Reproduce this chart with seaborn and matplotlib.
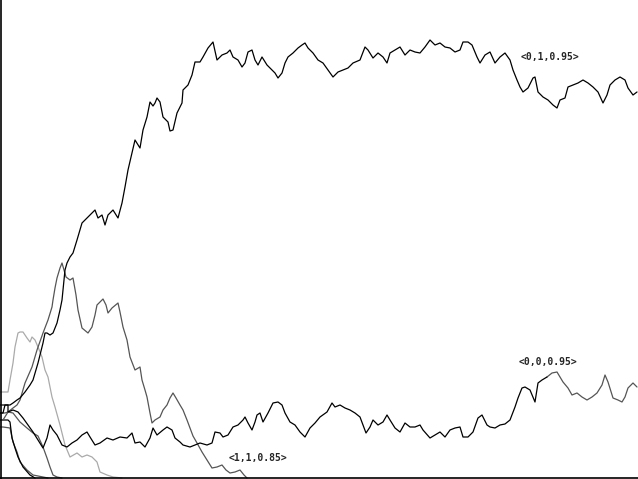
import numpy as np
import pandas as pd
import matplotlib
matplotlib.use('Agg')
from matplotlib import pyplot as plt
import seaborn as sns

# walk <0,1,0.95> (top black)
x_top = [0, 3, 5, 7, 10, 13, 17, 20, 25, 30, 33, 38, 43, 45, 47, 50, 53, 57, 60, 62, 63, 65, 67, 70, 73, 77, 82, 87, 92, 95,
         98, 102, 105, 108, 113, 118, 122, 125, 128, 132, 135, 140, 143, 147, 150, 153, 155, 157, 160, 163, 168, 170, 173,
         177, 182, 183, 188, 192, 195, 200, 203, 208, 213, 217, 222, 227, 230, 233, 238, 242, 245, 248, 252, 255, 258, 262,
         267, 272, 275, 278, 282, 285, 288, 293, 298, 302, 305, 308, 313, 318, 323, 328, 333, 338, 343, 348, 353, 360, 365,
         368, 373, 378, 383, 387, 390, 395, 400, 405, 410, 415, 420, 425, 430, 435, 440, 445, 450, 455, 460, 463, 468, 472,
         477, 480, 485, 490, 495, 500, 505, 510, 513, 517, 520, 523, 528, 533, 535, 538, 543, 548, 553, 557, 560, 565, 568,
         573, 578, 583, 588, 593, 598, 603, 607, 610, 615, 620, 625, 628, 633, 637]
y_top = [413, 413, 405, 405, 405, 403, 400, 398, 392, 385, 380, 363, 343, 333, 333, 335, 333, 323, 310, 300, 290, 270, 263,
         257, 253, 240, 223, 218, 213, 210, 218, 215, 225, 215, 210, 218, 203, 187, 170, 153, 140, 148, 130, 117, 102, 106,
         103, 98, 102, 117, 122, 131, 130, 113, 103, 90, 85, 75, 62, 62, 57, 48, 42, 60, 55, 53, 50, 57, 60, 67, 63, 52, 50,
         60, 65, 57, 65, 70, 73, 78, 73, 63, 57, 53, 48, 45, 43, 48, 53, 60, 63, 70, 77, 72, 70, 68, 63, 60, 47, 50, 58, 53,
         57, 63, 53, 50, 47, 55, 50, 52, 53, 47, 40, 45, 43, 47, 48, 52, 50, 42, 42, 45, 57, 63, 55, 52, 63, 57,
         53, 60, 70, 80, 87, 92, 88, 78, 77, 92, 97, 100, 105, 108, 100, 98, 87, 85, 83, 80, 83, 87, 92, 103, 95, 85, 80, 77,
         80, 88, 95, 92]

# walk <0,0,0.95> (bottom, black then grey)
x_low = [0, 3, 8, 8, 13, 18, 23, 28, 33, 38, 43, 47, 50, 53, 57, 62, 67, 72, 77, 82, 87, 90, 95, 100, 107,
         113, 120, 127, 132, 135, 140, 145, 150, 153, 157, 163, 167, 172, 175, 180, 183, 190, 195, 200, 207, 212, 215, 220,
         223, 228, 233, 238, 243, 245, 248, 252, 255, 257, 260, 263, 268, 273, 278, 282, 285, 290, 295, 300, 305, 310, 315,
         320, 327, 332, 335, 340, 345, 350, 355, 360, 363, 366, 370, 373, 378, 383, 387, 390, 395, 400, 405, 410, 415, 420,
         423, 430, 435, 440, 445, 450, 455, 460, 463, 468, 473, 478, 482, 487, 490, 495, 500, 505, 510, 515, 518, 522, 525,
         530, 535, 538, 542, 547]
y_low = [405, 405, 405, 412, 410, 412, 418, 425, 432, 440, 448, 438, 425, 430, 435, 445, 447, 443, 440, 435, 432, 437, 445,
         443, 438,
         440, 437, 438, 433, 443, 442, 447, 438, 428, 435, 430, 427, 430, 438, 442, 445, 447,
         445, 443, 445, 443, 432, 433, 437, 435, 427, 425, 420, 417, 423, 430, 422, 415, 413, 422, 413, 403, 402, 405, 413,
         422, 425, 432, 437, 428, 423, 417, 412, 403, 407, 405, 408, 410, 413, 417, 425, 433, 427, 420, 425, 422, 415, 420,
         428, 432, 423, 427, 427, 425, 430, 438, 435, 432, 437, 430, 428, 427, 437, 437, 432, 418, 415, 425, 427, 428, 425,
         424, 420, 407, 398, 388, 387, 390, 402, 383, 380, 377]
x_low_end = [547, 552, 557, 560, 563, 568, 572, 577, 582, 587, 592, 597, 602, 605, 608, 613, 618, 622, 625, 628, 633, 637]
y_low_end = [377, 373, 372, 377, 382, 388, 395, 393, 397, 400, 397, 393, 385, 375, 382, 398, 400, 402, 397, 388, 383, 387]

# walk <1,1,0.85> (dark grey)
x_mid = [0, 3, 8, 13, 17, 20, 25, 32, 37, 43, 48, 52, 53, 55, 57, 60, 62, 64, 66, 70, 73, 76, 78, 82, 88, 92, 95, 97, 103,
         106, 108, 112, 118, 120, 123, 127, 130, 135, 140, 142, 145, 147, 150, 152, 155, 160, 163, 167, 170, 173, 176, 180,
         183, 187, 190, 193, 197, 202, 207, 212, 217, 222, 226, 230, 235, 240, 244, 247]
y_mid = [420, 420, 412, 408, 405, 400, 383, 367, 350, 333, 320, 307, 300, 288, 278, 268, 263, 270, 277, 280, 278, 295, 310,
         328, 333, 327, 315, 305, 299, 305, 313, 308, 303, 312, 327, 340, 357, 370, 367, 380, 390, 397, 413, 423, 420, 417,
         410, 405, 398, 393, 398, 405, 410, 420, 428, 436, 443, 452, 460, 468, 467, 465, 470, 473, 472, 470, 475, 478]

# light grey walk
x_pale = [0, 3, 8, 10, 13, 15, 18, 20, 23, 27, 30, 32, 35, 38, 42, 45, 48, 52, 55, 60, 65, 70, 77, 82, 87, 92, 97, 100,
          107, 113, 122]
y_pale = [392, 392, 392, 380, 363, 347, 333, 332, 332, 338, 342, 337, 340, 347, 357, 370, 377, 397, 407, 425, 445, 457,
          453, 457, 455, 457, 462, 472, 475, 477, 478]

# short walks absorbed early
x_a = [0, 3, 8, 10, 12, 15, 18, 23, 30, 35]
y_a = [420, 420, 420, 422, 438, 448, 457, 467, 475, 478]
x_b = [0, 3, 10, 13, 17, 20, 27, 33, 38, 43, 48]
y_b = [427, 427, 428, 442, 452, 462, 470, 475, 476, 477, 478]
x_c = [0, 5, 8, 13, 20, 27, 33, 38, 43, 47, 50, 53, 57, 62]
y_c = [413, 413, 412, 413, 422, 428, 433, 436, 447, 458, 467, 475, 477, 478]

labels = ['<0,1,0.95>', '<0,0,0.95>', '<1,1,0.85>']

sns.set_style('white')
fig = plt.figure(figsize=(6.38, 4.79), dpi=100)
ax = fig.add_axes([0, 0, 1, 1])

walks = [(x_pale, y_pale, '#aaaaaa'), (x_b, y_b, '#555555'), (x_c, y_c, '#555555'), (x_a, y_a, 'black'),
         (x_mid, y_mid, '#555555'), (x_low_end, y_low_end, '#555555'), (x_low, y_low, 'black'), (x_top, y_top, 'black')]
for xs, ys, col in walks:
    d = pd.DataFrame({'step': xs, 'value': ys})
    sns.lineplot(data=d, x='step', y='value', color=col, lw=0.9, sort=False, estimator=None, ax=ax)

ax.set_xlim(0, 638)
ax.set_ylim(479, 0)
ax.set_xticks([])
ax.set_yticks([])
ax.set_xlabel('')
ax.set_ylabel('')
for s in ['top', 'right']:
    ax.spines[s].set_visible(False)
ax.spines['left'].set_position(('data', 0.7))
ax.spines['bottom'].set_position(('data', 478))
ax.spines['left'].set_color('black')
ax.spines['bottom'].set_color('black')
ax.spines['left'].set_linewidth(1.2)
ax.spines['bottom'].set_linewidth(1.2)

font = dict(family='DejaVu Sans Mono', weight='bold', size=7, va='center', ha='left')
ax.text(521, 57, labels[0], **font)
ax.text(519, 362, labels[1], **font)
ax.text(229, 458, labels[2], **font)

fig.savefig('out.png', dpi=100)
